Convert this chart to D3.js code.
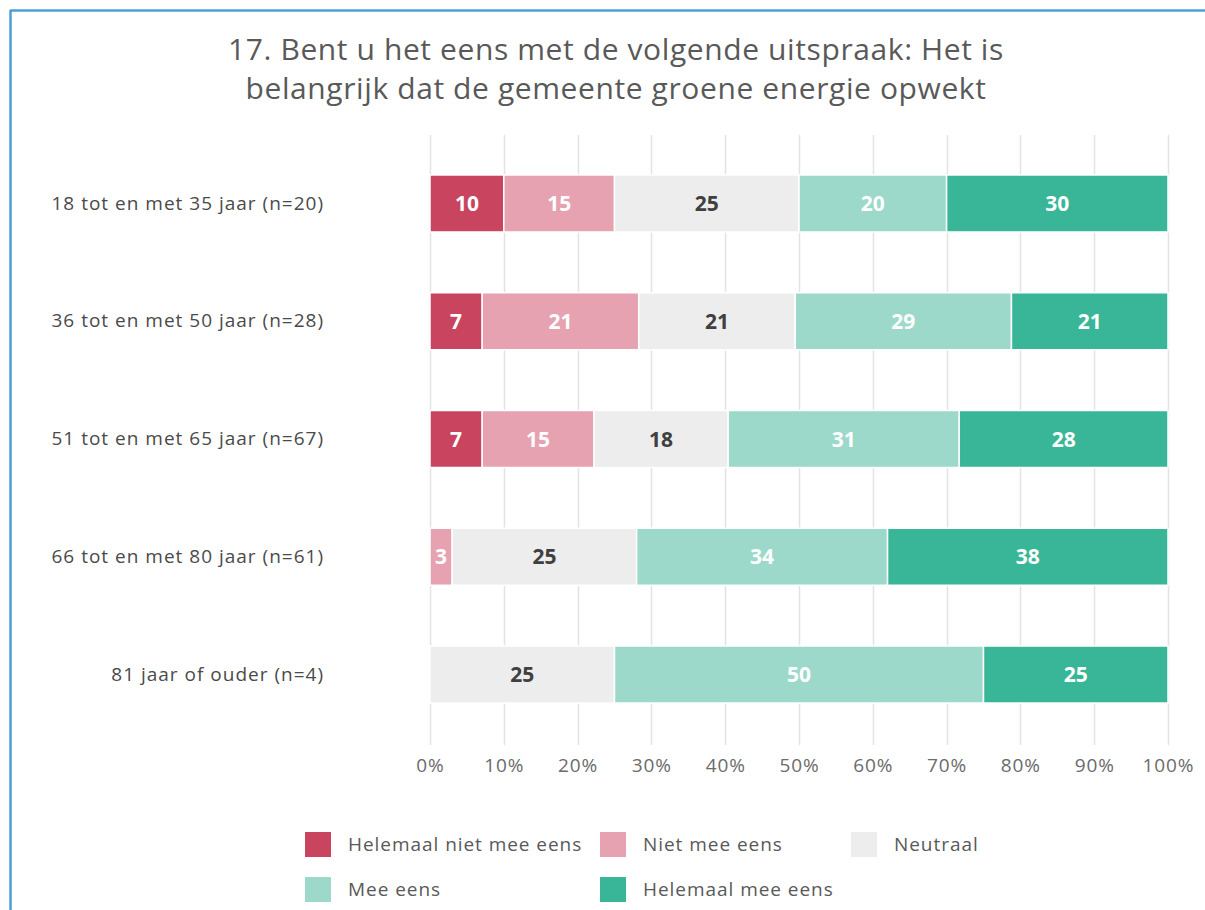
<!DOCTYPE html>
<html>
<head>
<meta charset="utf-8">
<script src="https://cdn.jsdelivr.net/npm/d3@7"></script>
<style>
  html, body { margin: 0; padding: 0; background: #ffffff; }
  svg { display: block; font-family: "Open Sans", sans-serif; }
</style>
</head>
<body>
<svg id="chart" width="1205" height="910"></svg>
<script>
// Survey question 17: agreement by age group (percentages per group)
const categories = [
  "18 tot en met 35 jaar (n=20)",
  "36 tot en met 50 jaar (n=28)",
  "51 tot en met 65 jaar (n=67)",
  "66 tot en met 80 jaar (n=61)",
  "81 jaar of ouder (n=4)"
];
const seriesNames = [
  "Helemaal niet mee eens",
  "Niet mee eens",
  "Neutraal",
  "Mee eens",
  "Helemaal mee eens"
];
const helemaalNiet = [10, 7, 7, 0, 0];
const niet         = [15, 21, 15, 3, 0];
const neutraal     = [25, 21, 18, 25, 25];
const mee          = [20, 29, 31, 34, 50];
const helemaalMee  = [30, 21, 28, 38, 25];
const tickLabels = ["0%", "10%", "20%", "30%", "40%", "50%", "60%", "70%", "80%", "90%", "100%"];
const titleLines = [
  "17. Bent u het eens met de volgende uitspraak: Het is",
  "belangrijk dat de gemeente groene energie opwekt"
];

const colors = ["#C8445F", "#E6A2B1", "#EDEDED", "#9CD9CA", "#38B697"];
const labelColors = ["#ffffff", "#ffffff", "#404040", "#ffffff", "#ffffff"];
const FONT = "'Open Sans', sans-serif";

const seriesValues = [helemaalNiet, niet, neutraal, mee, helemaalMee];
const rows = categories.map((c, i) => {
  const r = { category: c };
  seriesNames.forEach((s, k) => { r[s] = seriesValues[k][i]; });
  return r;
});

const svg = d3.select("#chart");

// frame lines
svg.append("line").attr("x1", 10.5).attr("x2", 10.5).attr("y1", 10).attr("y2", 910)
  .attr("stroke", "#4E9FD3").attr("stroke-width", 2.5);
svg.append("line").attr("x1", 10).attr("x2", 1205).attr("y1", 10.5).attr("y2", 10.5)
  .attr("stroke", "#4E9FD3").attr("stroke-width", 2.5);

// title
svg.append("g").selectAll("text").data(titleLines).join("text")
  .attr("x", 616).attr("y", (d, i) => 60 + i * 39)
  .attr("text-anchor", "middle")
  .attr("font-size", 30)
  .attr("letter-spacing", 0.6)
  .attr("fill", "#595959")
  .text(d => d);

const x = d3.scaleLinear().domain([0, 1]).range([430, 1168]);
const y = d3.scaleBand().domain(categories).range([144.6, 733.4]).paddingInner(0.516).paddingOuter(0.258);

// 100% stacked layout
const stacked = d3.stack().keys(seriesNames).offset(d3.stackOffsetExpand)(rows);

// vertical gridlines
const gridTicks = d3.range(0, 1.0001, 0.1);
svg.append("g").selectAll("line").data(gridTicks).join("line")
  .attr("x1", d => Math.round(x(d)) + 0.5).attr("x2", d => Math.round(x(d)) + 0.5)
  .attr("y1", 135).attr("y2", 745)
  .attr("stroke", "#E3E3E3").attr("stroke-width", 1.5);

// x axis tick labels
const xAxis = d3.axisBottom(x).tickValues(gridTicks).tickSize(0)
  .tickFormat((d, i) => tickLabels[i]);
const gx = svg.append("g").attr("transform", "translate(0,755)").call(xAxis);
gx.select(".domain").remove();
gx.selectAll("text").attr("font-size", 19).attr("fill", "#6b6b6b")
  .attr("letter-spacing", 0.9)
  .attr("font-family", FONT);

// y axis category labels
const yAxis = d3.axisLeft(y).tickSize(0).tickPadding(0);
const gy = svg.append("g").attr("transform", "translate(324,0)").call(yAxis);
gy.select(".domain").remove();
gy.selectAll("text").attr("font-size", 19).attr("fill", "#4a4a4a")
  .attr("letter-spacing", 1.0)
  .attr("font-family", FONT);

// bars
const layer = svg.append("g").selectAll("g").data(stacked).join("g")
  .attr("fill", (d, i) => colors[i]);
layer.selectAll("rect").data(d => d.map(p => ({ p, key: d.key }))).join("rect")
  .filter(d => d.p.data[d.key] > 0)
  .attr("x", d => x(d.p[0]))
  .attr("y", d => y(d.p.data.category))
  .attr("width", d => x(d.p[1]) - x(d.p[0]))
  .attr("height", y.bandwidth())
  .attr("stroke", "#ffffff").attr("stroke-width", 1.5);

// value labels
const labels = svg.append("g").selectAll("g").data(stacked).join("g")
  .attr("fill", (d, i) => labelColors[i]);
labels.selectAll("text").data(d => d.map(p => ({ p, key: d.key }))).join("text")
  .filter(d => d.p.data[d.key] > 0)
  .attr("x", d => (x(d.p[0]) + x(d.p[1])) / 2)
  .attr("y", d => y(d.p.data.category) + y.bandwidth() / 2)
  .attr("dy", "0.36em")
  .attr("text-anchor", "middle")
  .attr("font-size", 21).attr("font-weight", "bold")
  .text(d => d.p.data[d.key]);

// legend
const legendPos = [
  { x: 305, y: 832 }, { x: 600, y: 832 }, { x: 851, y: 832 },
  { x: 305, y: 877 }, { x: 600, y: 877 }
];
const lg = svg.append("g").selectAll("g").data(seriesNames).join("g")
  .attr("transform", (d, i) => `translate(${legendPos[i].x},${legendPos[i].y})`);
lg.append("rect").attr("width", 26).attr("height", 25).attr("fill", (d, i) => colors[i]);
lg.append("text").attr("x", 43).attr("y", 12.5).attr("dy", "0.36em")
  .attr("font-size", 19).attr("letter-spacing", 0.95)
  .attr("fill", "#595959").text(d => d);
</script>
</body>
</html>
